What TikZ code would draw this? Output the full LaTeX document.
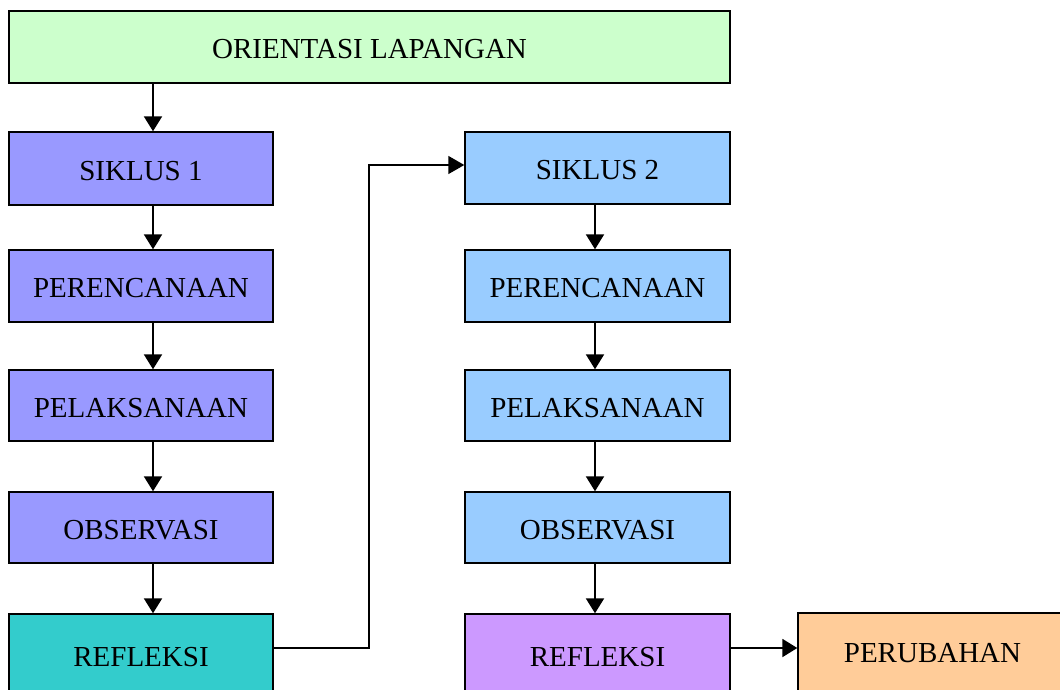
\documentclass[tikz,border=0pt]{standalone}
\usepackage{fontspec}
\setmainfont{Liberation Serif}
\usetikzlibrary{arrows.meta}
\definecolor{cTop}{HTML}{CCFFCC}
\definecolor{cLeft}{HTML}{9999FF}
\definecolor{cRefA}{HTML}{33CCCC}
\definecolor{cRight}{HTML}{99CCFF}
\definecolor{cRefB}{HTML}{CC99FF}
\definecolor{cOut}{HTML}{FFCC99}
\tikzset{
  stagebox/.style={draw=black, line width=1.4pt, rectangle, inner sep=0pt,
    text height=23pt, text depth=0pt,
    font=\fontsize{29}{34}\selectfont},
  flowarrow/.style={line width=2pt, -{Triangle[width=18pt,length=15pt]}},
  thinline/.style={line width=1.4pt}
}
\begin{document}
\begin{tikzpicture}[x=1pt,y=-1pt]
\useasboundingbox (0,0) rectangle (1060,689);
% top
\node[stagebox, fill=cTop, minimum width=721pt, minimum height=72pt] (top) at (369.5,47) {ORIENTASI LAPANGAN};
% left column
\node[stagebox, fill=cLeft, minimum width=264pt, minimum height=73pt] (s1) at (141,168.5) {SIKLUS 1};
\node[stagebox, fill=cLeft, minimum width=264pt, minimum height=72pt] (p1) at (141,286) {PERENCANAAN};
\node[stagebox, fill=cLeft, minimum width=264pt, minimum height=71pt] (l1) at (141,405.5) {PELAKSANAAN};
\node[stagebox, fill=cLeft, minimum width=264pt, minimum height=71pt] (o1) at (141,527.5) {OBSERVASI};
\node[stagebox, fill=cRefA, minimum width=264pt, minimum height=82pt] (r1) at (141,655) {REFLEKSI};
% right column
\node[stagebox, fill=cRight, minimum width=265pt, minimum height=72pt] (s2) at (597.5,168) {SIKLUS 2};
\node[stagebox, fill=cRight, minimum width=265pt, minimum height=72pt] (p2) at (597.5,286) {PERENCANAAN};
\node[stagebox, fill=cRight, minimum width=265pt, minimum height=71pt] (l2) at (597.5,405.5) {PELAKSANAAN};
\node[stagebox, fill=cRight, minimum width=265pt, minimum height=71pt] (o2) at (597.5,527.5) {OBSERVASI};
\node[stagebox, fill=cRefB, minimum width=265pt, minimum height=82pt] (r2) at (597.5,655) {REFLEKSI};
% outcome
\node[stagebox, text height=19pt, fill=cOut, minimum width=269pt, minimum height=80pt] (pu) at (932.5,653) {PERUBAHAN};
% helper coordinates
\coordinate (lx) at (153,0);
\coordinate (rx) at (595,0);
\coordinate (bend) at (369,648);
% left arrows
\draw[flowarrow] (top.south -| lx) -- (s1.north -| lx);
\draw[flowarrow] (s1.south -| lx) -- (p1.north -| lx);
\draw[flowarrow] (p1.south -| lx) -- (l1.north -| lx);
\draw[flowarrow] (l1.south -| lx) -- (o1.north -| lx);
\draw[flowarrow] (o1.south -| lx) -- (r1.north -| lx);
% right arrows
\draw[flowarrow] (s2.south -| rx) -- (p2.north -| rx);
\draw[flowarrow] (p2.south -| rx) -- (l2.north -| rx);
\draw[flowarrow] (l2.south -| rx) -- (o2.north -| rx);
\draw[flowarrow] (o2.south -| rx) -- (r2.north -| rx);
% connectors
\draw[thinline, -{Triangle[width=18pt,length=16pt]}] (r1.east |- bend) -- (bend) |- ([yshift=3pt]s2.west);
\draw[flowarrow] (r2.east |- bend) -- (pu.west |- bend);
\end{tikzpicture}
\end{document}
